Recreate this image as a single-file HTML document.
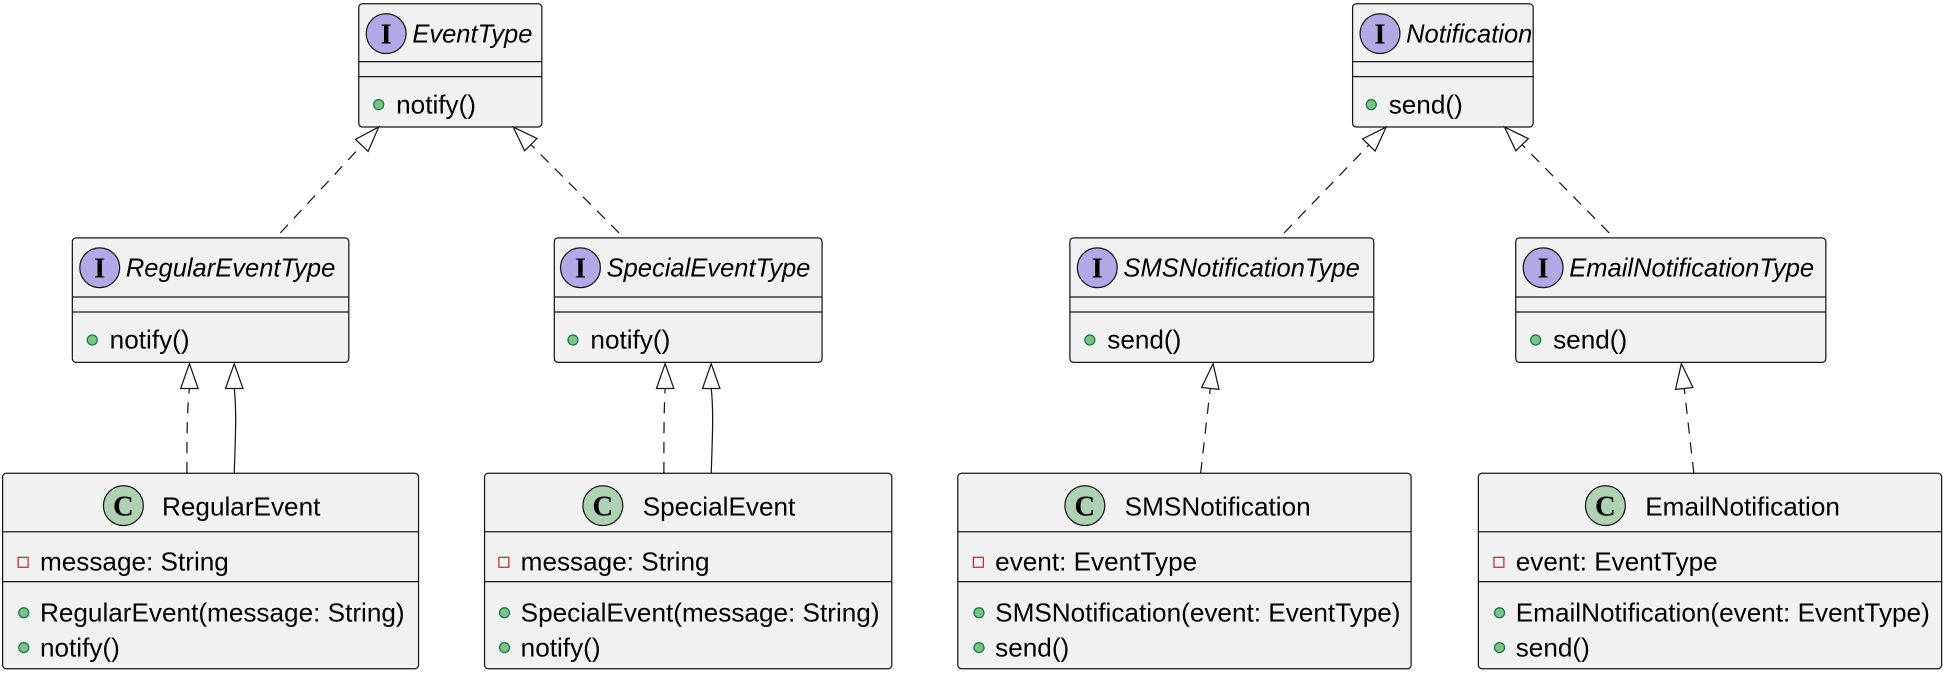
<!DOCTYPE html>
<html><head><meta charset="utf-8"><style>html,body{margin:0;padding:0;background:#fff;}svg{display:block}</style></head>
<body>
<svg width="1943" height="674" viewBox="0 0 1560 541.2" xmlns="http://www.w3.org/2000/svg" font-family="Liberation Sans, sans-serif" font-size="21">
<defs>
<g id="gdot"><circle r="4" fill="#84BE84" stroke="#038048" stroke-width="1"/></g>
</defs>
<g stroke="#181818" stroke-width="1" fill="#F1F1F1">
<rect x="288" y="3" width="147" height="99" rx="3"/>
<rect x="1086" y="3" width="145" height="99" rx="3"/>
<rect x="58" y="191" width="222" height="100" rx="3"/>
<rect x="445" y="191" width="215" height="100" rx="3"/>
<rect x="859" y="191" width="244" height="100" rx="3"/>
<rect x="1217" y="191" width="249" height="100" rx="3"/>
<rect x="2" y="380" width="334" height="157" rx="3"/>
<rect x="389" y="380" width="327" height="157" rx="3"/>
<rect x="769" y="380" width="364" height="157" rx="3"/>
<rect x="1187" y="380" width="372" height="157" rx="3"/>
</g>
<g stroke="#181818" stroke-width="1">
<path d="M288 49.5H435M288 61.5H435M1086 49.5H1231M1086 61.5H1231"/>
<path d="M58 238.5H280M58 250.5H280M445 238.5H660M445 250.5H660M859 238.5H1103M859 250.5H1103M1217 238.5H1466M1217 250.5H1466"/>
<path d="M2 427H336M2 467H336M389 427H716M389 467H716M769 427H1133M769 467H1133M1187 427H1559M1187 467H1559"/>
</g>
<g stroke="#181818" stroke-width="1" fill="none">
<path d="M225 187L290.4 116.7M497 187L426.1 116.1M1031 187L1099.1 116.4M1292 187L1222.1 116.2" stroke-dasharray="9,7"/>
<path d="M150 380C150 350 150 330 152 312M533 380C533 350 533 330 534 312M964 380L971.7 311.9M1360 380L1352.3 311.9" stroke-dasharray="9,7"/>
<path d="M188 380C189 350 190 330 188 312M571 380C572 350 573 330 571 312"/>
</g>
<g stroke="#181818" stroke-width="1" fill="#fff">
<polygon points="304,102 295.5,121.5 285.3,111.9"/>
<polygon points="412,102 431.1,111.2 421.2,121.1"/>
<polygon points="1113,102 1104.1,121.3 1094.1,111.5"/>
<polygon points="1208,102 1227.1,111.3 1217.1,121.1"/>
<polygon points="152,292 145,312 159,312"/>
<polygon points="188,292 181,312 195,312"/>
<polygon points="534,292 527,312 541,312"/>
<polygon points="571,292 564,312 578,312"/>
<polygon points="974,292 978.7,312.7 964.8,311.1"/>
<polygon points="1350,292 1359.3,311.1 1345.3,312.7"/>
</g>
<g stroke="#181818" stroke-width="1" fill="#B4A7E5">
<circle cx="310" cy="27" r="16"/>
<circle cx="1108" cy="27" r="16"/>
<circle cx="80" cy="215" r="16"/>
<circle cx="466" cy="215" r="16"/>
<circle cx="881" cy="215" r="16"/>
<circle cx="1239" cy="215" r="16"/>
</g>
<g font-family="Liberation Serif, serif" font-size="23" font-weight="bold" text-anchor="middle" fill="#000">
<text x="310" y="35">I</text><text x="1108" y="35">I</text><text x="80" y="223">I</text><text x="466" y="223">I</text><text x="881" y="223">I</text><text x="1239" y="223">I</text>
</g>
<g font-style="italic" fill="#000" font-size="20.5">
<text x="331" y="34">EventType</text>
<text x="1129" y="34">Notification</text>
<text x="101" y="222">RegularEventType</text>
<text x="487" y="222">SpecialEventType</text>
<text x="902" y="222">SMSNotificationType</text>
<text x="1260" y="222">EmailNotificationType</text>
</g>
<g stroke="#181818" stroke-width="1" fill="#ADD1B2">
<circle cx="99" cy="406" r="16"/>
<circle cx="484" cy="406" r="16"/>
<circle cx="871" cy="406" r="16"/>
<circle cx="1289" cy="406" r="16"/>
</g>
<g font-family="Liberation Serif, serif" font-size="23" font-weight="bold" text-anchor="middle" fill="#000">
<text x="99" y="414">C</text><text x="484" y="414">C</text><text x="871" y="414">C</text><text x="1289" y="414">C</text>
</g>
<g fill="#000">
<text x="130" y="414">RegularEvent</text>
<text x="516" y="414">SpecialEvent</text>
<text x="903" y="414">SMSNotification</text>
<text x="1321" y="414">EmailNotification</text>
</g>
<use href="#gdot" x="304" y="84"/><text x="318" y="91">notify()</text>
<use href="#gdot" x="1101" y="84"/><text x="1115" y="91">send()</text>
<use href="#gdot" x="74" y="273"/><text x="88" y="280">notify()</text>
<use href="#gdot" x="460" y="273"/><text x="474" y="280">notify()</text>
<use href="#gdot" x="875" y="273"/><text x="889" y="280">send()</text>
<use href="#gdot" x="1233" y="273"/><text x="1247" y="280">send()</text>
<g fill="none" stroke="#C82930" stroke-width="1">
<rect x="14.5" y="447.5" width="8" height="8"/>
<rect x="400.5" y="447.5" width="8" height="8"/>
<rect x="781.5" y="447.5" width="8" height="8"/>
<rect x="1199.5" y="447.5" width="8" height="8"/>
</g>
<text x="32" y="458">message: String</text>
<text x="418" y="458">message: String</text>
<text x="799" y="458">event: EventType</text>
<text x="1217" y="458">event: EventType</text>
<use href="#gdot" x="19" y="492"/><text x="32" y="499">RegularEvent(message: String)</text>
<use href="#gdot" x="19" y="520"/><text x="32" y="527">notify()</text>
<use href="#gdot" x="405" y="492"/><text x="418" y="499">SpecialEvent(message: String)</text>
<use href="#gdot" x="405" y="520"/><text x="418" y="527">notify()</text>
<use href="#gdot" x="786" y="492"/><text x="799" y="499">SMSNotification(event: EventType)</text>
<use href="#gdot" x="786" y="520"/><text x="799" y="527">send()</text>
<use href="#gdot" x="1204" y="492"/><text x="1217" y="499">EmailNotification(event: EventType)</text>
<use href="#gdot" x="1204" y="520"/><text x="1217" y="527">send()</text>
</svg>
</body></html>
